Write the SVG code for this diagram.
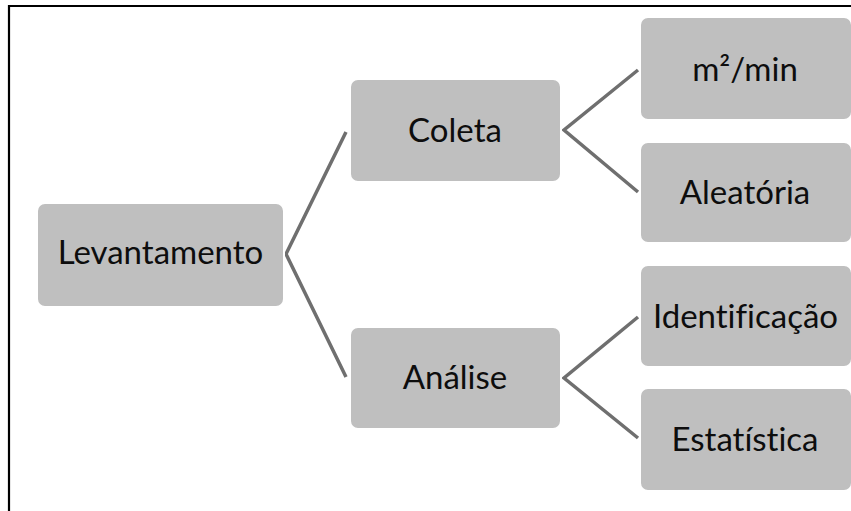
<svg xmlns="http://www.w3.org/2000/svg" width="851" height="511" viewBox="0 0 851 511">
<style>
.box{fill:#bfbfbf;stroke:#ffffff;stroke-width:2}
.lbl{font-family:Lato,"Open Sans","Liberation Sans",sans-serif;font-size:33px;fill:#0d0d0d;text-anchor:middle;font-variant-ligatures:none}
.con{stroke:#6f6f6f;stroke-width:3.5;fill:none;stroke-linejoin:miter}
</style>
<rect x="0" y="0" width="851" height="511" fill="#ffffff"/>
<line x1="9" y1="6" x2="851" y2="6" stroke="#000" stroke-width="2.2"/>
<line x1="9" y1="5" x2="9" y2="511" stroke="#000" stroke-width="2.2"/>
<g id="connectors">
<polyline class="con" points="346,132 286,254 346,377"/>
<polyline class="con" points="638,70 564,130 638,192"/>
<polyline class="con" points="638,317 564,378 638,438"/>
</g>
<g id="levantamento"><rect class="box" x="37" y="203" width="247" height="104" rx="8"/><text class="lbl" x="160.5" y="264">Levantamento</text></g>
<g id="coleta"><rect class="box" x="350" y="79" width="211" height="103" rx="8"/><text class="lbl" x="455" y="142">Coleta</text></g>
<g id="analise"><rect class="box" x="350" y="327" width="211" height="102" rx="8"/><text class="lbl" x="455" y="389">Análise</text></g>
<g id="m2min"><rect class="box" x="640" y="17" width="212" height="103" rx="8"/><text class="lbl" x="745" y="81">m²/min</text></g>
<g id="aleatoria"><rect class="box" x="640" y="142" width="212" height="101" rx="8"/><text class="lbl" x="745" y="204">Aleatória</text></g>
<g id="identificacao"><rect class="box" x="640" y="265" width="212" height="102" rx="8"/><text class="lbl" x="745.5" y="328">Identificação</text></g>
<g id="estatistica"><rect class="box" x="640" y="388" width="212" height="103" rx="8"/><text class="lbl" x="745" y="451">Estatística</text></g>
</svg>
